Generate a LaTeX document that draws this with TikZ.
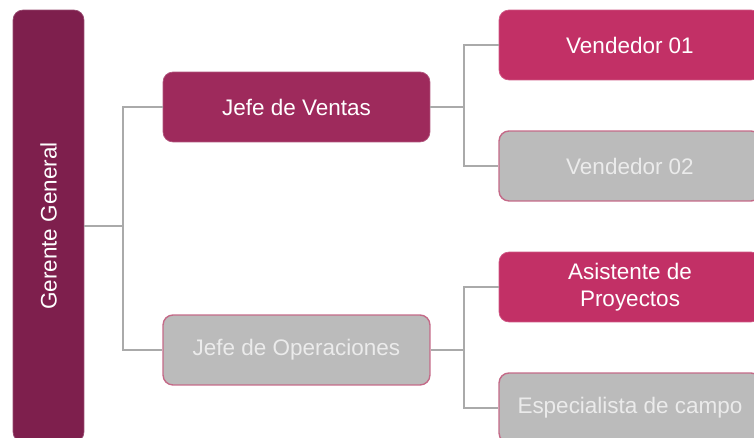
\documentclass[tikz,border=0pt]{standalone}
\usepackage{fontspec}
\setmainfont{Liberation Sans}
\usepackage{tikz}
\usetikzlibrary{positioning}
\definecolor{vino}{HTML}{7E1F4D}
\definecolor{guinda}{HTML}{9E2A5C}
\definecolor{rosa}{HTML}{C23066}
\definecolor{grisc}{HTML}{BBBBBB}
\definecolor{bordeg}{HTML}{C46A88}
\definecolor{lineag}{HTML}{AAAAAA}
\tikzstyle{caja} = [rectangle, rounded corners=0.2cm, text=white, align=center, font=\fontsize{12.8}{15.2}\selectfont, minimum height=1.4cm]
\tikzstyle{gris} = [caja, fill=grisc, draw=bordeg, line width=0.8pt, text=white!92!black]
\tikzstyle{linea} = [draw=lineag, line width=0.7pt]

\begin{document}
\begin{tikzpicture}[x=0.02cm, y=-0.02cm]
        \useasboundingbox (0,0) rectangle (754,438);
        \clip (0,0) rectangle (754,438);

        \node (gg) [caja, fill=vino, draw=vino!80!white, rotate=90, minimum width=8.64cm, minimum height=1.42cm] at (48.5,226) {Gerente General};

        \node (jv) [caja, fill=guinda, draw=guinda!80!white, minimum width=5.34cm] at (296.5,107) {Jefe de Ventas};
        \node (jo) [gris, minimum width=5.34cm] at (296.5,350) {Jefe de Operaciones};

        \node (v1) [caja, fill=rosa, draw=rosa!80!white, minimum width=5.24cm] at (630,45) {Vendedor 01};
        \node (v2) [gris, minimum width=5.24cm] at (630,166) {Vendedor 02};
        \node (ap) [caja, fill=rosa, draw=rosa!80!white, minimum width=5.24cm] at (630,287) {Asistente de\\Proyectos};
        \node (ec) [gris, minimum width=5.24cm] at (630,408) {Especialista de campo};

        \coordinate (b1) at (123,226);
        \coordinate (b2) at (464,107);
        \coordinate (b3) at (464,350);

        \draw[linea] (gg.south) -- (b1);
        \draw[linea] (jv.west) -| (b1) |- (jo.west);
        \draw[linea] (jv.east) -- (b2);
        \draw[linea] (v1.west) -| (b2) |- (v2.west);
        \draw[linea] (jo.east) -- (b3);
        \draw[linea] (ap.west) -| (b3) |- (ec.west);
    \end{tikzpicture}
\end{document}
